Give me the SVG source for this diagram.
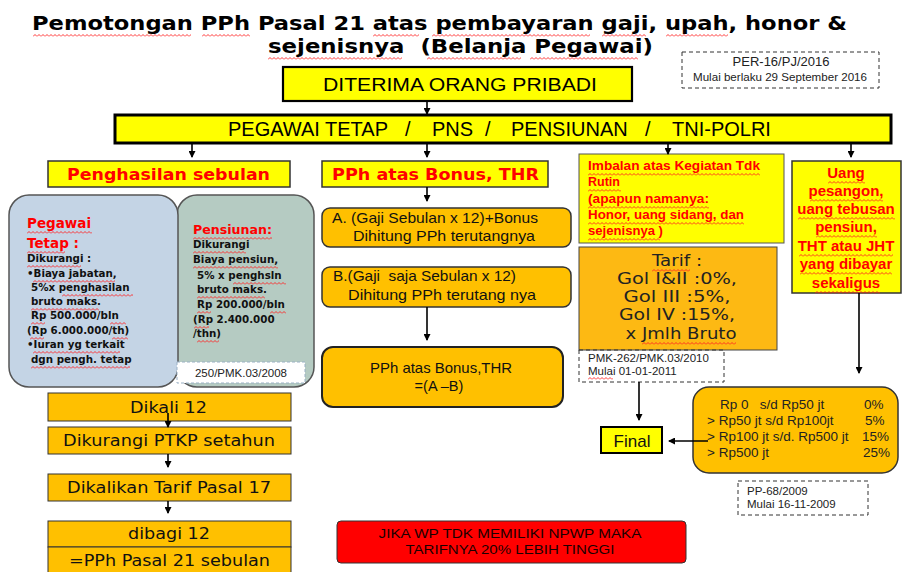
<svg xmlns="http://www.w3.org/2000/svg" width="903" height="572" viewBox="0 0 903 572">
<defs>
<style>
.v{font-family:"DejaVu Sans",Verdana,sans-serif}
.vb{font-family:"DejaVu Sans",Verdana,sans-serif;font-weight:bold}
.a{font-family:"Liberation Sans",Arial,sans-serif}
.ab{font-family:"Liberation Sans",Arial,sans-serif;font-weight:bold}
.red{fill:#FF0000}
.dk{fill:#111}
.mid{text-anchor:middle}
.yel{fill:#FFFF00}
.org{fill:#FFC000}
.wv{fill:url(#wv)}
.dash{fill:#fff;stroke:#333;stroke-width:1;stroke-dasharray:4 3}
.arr{stroke:#000;stroke-width:1.6;fill:none;marker-end:url(#ah)}
</style>
<pattern id="wv" width="4" height="3" patternUnits="userSpaceOnUse"><path d="M0 2.5 L2 0.5 L4 2.5" fill="none" stroke="#FF2020" stroke-width="0.9"/></pattern>
<marker id="ah" markerWidth="7" markerHeight="7" refX="6" refY="3.5" orient="auto" markerUnits="userSpaceOnUse"><path d="M0 0 L7 3.5 L0 7 z" fill="#000"/></marker>
</defs>
<rect width="903" height="572" fill="#fff"/>

<g id="title">
<text class="vb" x="32" y="30" font-size="20" textLength="815" lengthAdjust="spacingAndGlyphs" fill="#000">Pemotongan PPh Pasal 21 atas pembayaran gaji, upah, honor &amp;</text>
<text class="vb" x="268" y="53" font-size="20" textLength="385" lengthAdjust="spacingAndGlyphs" fill="#000" xml:space="preserve">sejenisnya  (Belanja Pegawai)</text>
<rect class="wv" transform="translate(33,34)" width="158" height="3"/>
<rect class="wv" transform="translate(202,34)" width="48" height="3"/>
<rect class="wv" transform="translate(373,34)" width="46" height="3"/>
<rect class="wv" transform="translate(432,34)" width="158" height="3"/>
<rect class="wv" transform="translate(602,34)" width="44" height="3"/>
<rect class="wv" transform="translate(666,34)" width="62" height="3"/>
<rect class="wv" transform="translate(268,57)" width="134" height="3"/>
<rect class="wv" transform="translate(427,57)" width="94" height="3"/>
<rect class="wv" transform="translate(530,57)" width="108" height="3"/>
</g>

<g id="per16">
<rect class="dash" x="682" y="52" width="197" height="36"/>
<text class="a mid" x="781" y="66" font-size="13" fill="#222">PER-16/PJ/2016</text>
<text class="a mid" x="780" y="81" font-size="11.5" textLength="174" lengthAdjust="spacingAndGlyphs" fill="#222">Mulai berlaku 29 September 2016</text>
</g>

<g id="diterima">
<rect class="yel" x="283" y="67" width="349" height="34" stroke="#000" stroke-width="2.2"/>
<text class="a" x="323" y="91" font-size="19" textLength="274" lengthAdjust="spacingAndGlyphs" fill="#000">DITERIMA ORANG PRIBADI</text>
</g>

<g id="pegawai">
<rect class="yel" x="115" y="115" width="776" height="28" stroke="#000" stroke-width="3"/>
<text class="a" y="136" font-size="20" fill="#000"><tspan x="228">PEGAWAI TETAP</tspan><tspan x="405">/</tspan><tspan x="432">PNS</tspan><tspan x="485">/</tspan><tspan x="511">PENSIUNAN</tspan><tspan x="645">/</tspan><tspan x="672">TNI-POLRI</tspan></text>
</g>

<g id="penghasilan">
<rect class="yel" x="48" y="161" width="242" height="26" stroke="#333" stroke-width="1.5"/>
<text class="vb red mid" x="168.5" y="180" font-size="15" textLength="203" lengthAdjust="spacingAndGlyphs">Penghasilan sebulan</text>
</g>

<g id="bonus-thr">
<rect class="yel" x="322" y="161" width="226" height="26" stroke="#333" stroke-width="1.5"/>
<text class="vb red mid" x="435.5" y="180" font-size="15" textLength="207" lengthAdjust="spacingAndGlyphs">PPh atas Bonus, THR</text>
</g>

<g id="pensiunan">
<rect x="177" y="195" width="137" height="192" rx="20" fill="#B5CBC2" stroke="#555" stroke-width="1.5"/>
<text class="vb red" x="193" y="234" font-size="12.6">Pensiunan:</text>
<g class="vb dk" font-size="10.3">
<text x="193" y="248">Dikurangi</text>
<text x="193" y="263">Biaya pensiun,</text>
<text x="197" y="279">5% x penghsln</text>
<text x="197" y="293">bruto maks.</text>
<text x="197" y="308">Rp 200.000/bln</text>
<text x="193" y="323">(Rp 2.400.000</text>
<text x="193" y="337">/thn)</text>
</g>
<rect class="wv" transform="translate(193,237)" width="79" height="3"/>
<rect class="wv" transform="translate(193,251)" width="53" height="3"/>
<rect class="wv" transform="translate(193,266)" width="85" height="3"/>
<rect class="wv" transform="translate(233,282)" width="53" height="3"/>
<rect class="wv" transform="translate(197,296)" width="68" height="3"/>
<rect class="wv" transform="translate(197,311)" width="14" height="3"/>
<rect class="wv" transform="translate(270,311)" width="16" height="3"/>
<rect class="wv" transform="translate(194,326)" width="15" height="3"/>
<rect class="wv" transform="translate(197,340)" width="22" height="3"/>
</g>

<g id="pegawai-tetap">
<rect x="9" y="195" width="169" height="192" rx="20" fill="#C4D4E5" stroke="#555" stroke-width="1.5"/>
<text class="vb red" x="27" y="228" font-size="13.5">Pegawai</text>
<text class="vb red" x="27" y="248" font-size="13.5">Tetap :</text>
<g class="vb dk" font-size="10.3">
<text x="27" y="262">Dikurangi :</text>
<text x="27" y="277">•Biaya jabatan,</text>
<text x="31" y="291">5%x penghasilan</text>
<text x="31" y="305">bruto maks.</text>
<text x="31" y="319">Rp 500.000/bln</text>
<text x="27" y="334">(Rp 6.000.000/th)</text>
<text x="27" y="348">•Iuran yg terkait</text>
<text x="31" y="363">dgn pengh. tetap</text>
</g>
<rect class="wv" transform="translate(27,231)" width="65" height="3"/>
<rect class="wv" transform="translate(27,251)" width="38" height="3"/>
<rect class="wv" transform="translate(27,265)" width="54" height="3"/>
<rect class="wv" transform="translate(33,280)" width="82" height="3"/>
<rect class="wv" transform="translate(62,294)" width="71" height="3"/>
<rect class="wv" transform="translate(31,308)" width="68" height="3"/>
<rect class="wv" transform="translate(31,322)" width="14" height="3"/>
<rect class="wv" transform="translate(110,322)" width="16" height="3"/>
<rect class="wv" transform="translate(30,337)" width="14" height="3"/>
<rect class="wv" transform="translate(112,337)" width="16" height="3"/>
<rect class="wv" transform="translate(33,351)" width="87" height="3"/>
<rect class="wv" transform="translate(31,366)" width="99" height="3"/>
</g>

<g id="pmk250">
<rect x="177" y="362" width="128" height="21" fill="#fff" stroke="#9AB0C4" stroke-width="1" stroke-dasharray="3 2"/>
<text class="a mid" x="241" y="376.5" font-size="11.5" fill="#222">250/PMK.03/2008</text>
</g>

<g id="box-a">
<rect class="org" x="322" y="208" width="249" height="39" rx="8" stroke="#333" stroke-width="1.5"/>
<text class="a dk" x="332" y="223" font-size="15" textLength="206" lengthAdjust="spacingAndGlyphs">A. (Gaji Sebulan x 12)+Bonus</text>
<text class="a dk" x="353" y="241" font-size="15" textLength="182" lengthAdjust="spacingAndGlyphs">Dihitung PPh terutangnya</text>
</g>

<g id="box-b">
<rect class="org" x="322" y="267" width="249" height="40" rx="8" stroke="#333" stroke-width="1.5"/>
<text class="a dk" x="333" y="281" font-size="15" textLength="183" lengthAdjust="spacingAndGlyphs" xml:space="preserve">B.(Gaji  saja Sebulan x 12)</text>
<text class="a dk" x="348" y="300" font-size="15" textLength="188" lengthAdjust="spacingAndGlyphs">Dihitung PPh terutang nya</text>
</g>

<g id="box-c">
<rect class="org" x="322" y="347" width="241" height="60" rx="11" stroke="#222" stroke-width="2"/>
<text class="a dk mid" x="441" y="373" font-size="14.5" textLength="142" lengthAdjust="spacingAndGlyphs">PPh atas Bonus,THR</text>
<text class="a dk mid" x="439" y="391" font-size="14.5">=(A –B)</text>
</g>

<g id="dikali12">
<rect class="org" x="48" y="393" width="243" height="28" stroke="#333" stroke-width="1"/>
<text class="v dk mid" x="168.5" y="413" font-size="15" textLength="77" lengthAdjust="spacingAndGlyphs">Dikali 12</text>
</g>
<g id="ptkp">
<rect class="org" x="48" y="427" width="243" height="27" stroke="#333" stroke-width="1"/>
<text class="v dk mid" x="169" y="446" font-size="15" textLength="212" lengthAdjust="spacingAndGlyphs">Dikurangi PTKP setahun</text>
</g>
<g id="tarif17">
<rect class="org" x="48" y="474" width="243" height="27" stroke="#333" stroke-width="1"/>
<text class="v dk mid" x="169" y="493" font-size="15" textLength="204" lengthAdjust="spacingAndGlyphs">Dikalikan Tarif Pasal 17</text>
</g>
<g id="dibagi12">
<rect class="org" x="48" y="521" width="243" height="26" stroke="#333" stroke-width="1"/>
<text class="v dk mid" x="169" y="539" font-size="15" textLength="82" lengthAdjust="spacingAndGlyphs">dibagi 12</text>
</g>
<g id="pph21">
<rect class="org" x="48" y="547" width="243" height="30" stroke="#333" stroke-width="1"/>
<text class="v dk mid" x="169.5" y="566" font-size="15" textLength="201" lengthAdjust="spacingAndGlyphs">=PPh Pasal 21 sebulan</text>
</g>

<g id="npwp">
<rect x="337" y="521" width="349" height="42" rx="4" fill="#FF0000" stroke="#333" stroke-width="1"/>
<text class="a mid" x="510" y="538" font-size="13.5" fill="#1a0000" textLength="263" lengthAdjust="spacingAndGlyphs">JIKA WP TDK MEMILIKI NPWP MAKA</text>
<text class="a mid" x="510" y="554" font-size="13.5" fill="#1a0000" textLength="209" lengthAdjust="spacingAndGlyphs">TARIFNYA 20% LEBIH TINGGI</text>
</g>

<g id="imbalan">
<rect class="yel" x="579" y="154" width="205" height="89" stroke="#555" stroke-width="1"/>
<g class="ab red" font-size="12.5">
<text x="588" y="170" textLength="172" lengthAdjust="spacingAndGlyphs">Imbalan atas Kegiatan Tdk</text>
<text x="588" y="186">Rutin</text>
<text x="588" y="203" textLength="121" lengthAdjust="spacingAndGlyphs">(apapun namanya:</text>
<text x="588" y="219" textLength="156" lengthAdjust="spacingAndGlyphs">Honor, uang sidang, dan</text>
<text x="588" y="235" textLength="75" lengthAdjust="spacingAndGlyphs">sejenisnya )</text>
</g>
<rect class="wv" transform="translate(588,173)" width="172" height="3"/>
<rect class="wv" transform="translate(588,189)" width="33" height="3"/>
<rect class="wv" transform="translate(588,206)" width="121" height="3"/>
<rect class="wv" transform="translate(588,222)" width="156" height="3"/>
<rect class="wv" transform="translate(588,238)" width="72" height="3"/>
</g>

<g id="tarif">
<rect x="579" y="247" width="198" height="103" fill="#FDB913" stroke="#444" stroke-width="1"/>
<g class="v mid" font-size="16" fill="#222">
<text x="677" y="266" textLength="50" lengthAdjust="spacingAndGlyphs">Tarif :</text>
<text x="677" y="284" textLength="120" lengthAdjust="spacingAndGlyphs">Gol I&amp;II :0%,</text>
<text x="677" y="302" textLength="107" lengthAdjust="spacingAndGlyphs">Gol III :5%,</text>
<text x="677" y="320" textLength="116" lengthAdjust="spacingAndGlyphs">Gol IV :15%,</text>
<text x="681" y="339" textLength="111" lengthAdjust="spacingAndGlyphs">x Jmlh Bruto</text>
</g>
<rect class="wv" transform="translate(652,269)" width="38" height="3"/>
<rect class="wv" transform="translate(642,342)" width="94" height="3"/>
</g>

<g id="pmk262">
<rect x="579" y="350" width="145" height="32" fill="none" stroke="#333" stroke-width="1" stroke-dasharray="4 3"/>
<text class="a" x="588" y="362" font-size="11.5" fill="#222">PMK-262/PMK.03/2010</text>
<text class="a" x="588" y="375" font-size="11.5" fill="#222">Mulai 01-01-2011</text>
<rect class="wv" transform="translate(588,377)" width="25" height="3"/>
</g>

<g id="pesangon">
<rect class="yel" x="792" y="161" width="109" height="132" stroke="#333" stroke-width="1.5"/>
<g class="ab red mid" font-size="15">
<text x="846" y="178">Uang</text>
<text x="846" y="196">pesangon,</text>
<text x="846" y="214">uang tebusan</text>
<text x="846" y="232">pensiun,</text>
<text x="846" y="251">THT atau JHT</text>
<text x="846" y="269">yang dibayar</text>
<text x="846" y="288">sekaligus</text>
</g>
<rect class="wv" transform="translate(828,181)" width="37" height="3"/>
<rect class="wv" transform="translate(810,199)" width="73" height="3"/>
<rect class="wv" transform="translate(798,217)" width="97" height="3"/>
<rect class="wv" transform="translate(816,235)" width="61" height="3"/>
<rect class="wv" transform="translate(799,254)" width="94" height="3"/>
<rect class="wv" transform="translate(800,272)" width="92" height="3"/>
<rect class="wv" transform="translate(815,291)" width="65" height="3"/>
</g>

<g id="final">
<rect class="yel" x="601" y="427" width="61" height="26" stroke="#000" stroke-width="2"/>
<text class="a mid" x="632" y="446.5" font-size="17" fill="#111">Final</text>
</g>

<g id="tarif-progresif">
<rect class="org" x="693" y="387" width="205" height="86" rx="16" stroke="#333" stroke-width="1.5"/>
<g class="a" font-size="13.5" fill="#222">
<text x="720" y="409" xml:space="preserve">Rp 0   s/d Rp50 jt</text>
<text x="707" y="425">&gt; Rp50 jt s/d Rp100jt</text>
<text x="707" y="441">&gt; Rp100 jt s/d. Rp500 jt</text>
<text x="707" y="457">&gt; Rp500 jt</text>
<text x="864" y="409">0%</text>
<text x="865" y="425">5%</text>
<text x="862" y="441">15%</text>
<text x="863" y="457">25%</text>
</g>
</g>

<g id="pp68">
<rect x="738" y="481" width="130" height="34" fill="none" stroke="#333" stroke-width="1" stroke-dasharray="4 3"/>
<text class="a" x="747" y="495" font-size="11.5" fill="#222">PP-68/2009</text>
<text class="a" x="747" y="508" font-size="11.5" fill="#222">Mulai 16-11-2009</text>
</g>

<g id="connectors">
<line class="arr" x1="427" y1="101" x2="427" y2="114"/>
<line class="arr" x1="192" y1="144" x2="192" y2="157"/>
<line class="arr" x1="427" y1="144" x2="427" y2="157"/>
<line class="arr" x1="668" y1="144" x2="668" y2="154"/>
<line class="arr" x1="851" y1="144" x2="851" y2="157"/>
<line class="arr" x1="427" y1="187" x2="427" y2="201"/>
<line class="arr" x1="427" y1="307" x2="427" y2="340"/>
<line class="arr" x1="168" y1="413" x2="168" y2="427"/>
<line class="arr" x1="168" y1="454" x2="168" y2="467"/>
<line class="arr" x1="168" y1="501" x2="168" y2="513"/>
<line class="arr" x1="639" y1="382" x2="639" y2="420"/>
<line class="arr" x1="708" y1="441" x2="669" y2="441"/>
<line class="arr" x1="859" y1="293" x2="859" y2="373"/>
</g>
</svg>
